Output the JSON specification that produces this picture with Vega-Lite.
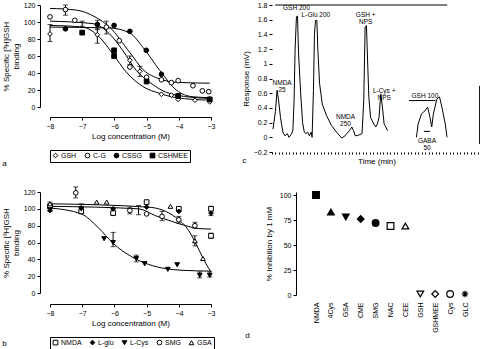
{
  "$schema": "https://vega.github.io/schema/vega-lite/v6.json",
  "padding": {"left": 2, "top": 1, "right": 0, "bottom": 0},
  "background": "white",
  "columns": 2,
  "spacing": {"row": 18, "column": 26},
  "resolve": {"scale": {"shape": "independent", "fill": "independent", "stroke": "independent", "x": "independent", "y": "independent"}},
  "config": {
    "font": "Liberation Sans",
    "view": {"stroke": null},
    "axis": {"labelFontSize": 7, "titleFontSize": 8, "titleFontWeight": "normal", "tickSize": 3, "grid": false, "domainColor": "black", "tickColor": "black", "labelColor": "black", "titleColor": "black", "labelPadding": 2, "titlePadding": 3, "labelOverlap": false, "labelFlush": false},
    "legend": {"labelFontSize": 7, "labelColor": "black", "orient": "bottom", "direction": "horizontal", "strokeColor": "black", "padding": 2, "symbolSize": 22, "symbolStrokeWidth": 1, "columnPadding": 6, "offset": 10, "labelOffset": 2},
    "title": {"fontSize": 8, "fontWeight": "normal", "color": "black"}
  },
  "concat": [
    {
      "width": 161, "height": 102,
      "title": {"text": "a", "orient": "bottom", "anchor": "start", "frame": "bounds", "offset": -3},
      "layer": [
        {
          "data": {"values": [
            {"curve": "C-G", "x": -8.0, "y": 116}, {"curve": "C-G", "x": -7.18, "y": 114}, {"curve": "C-G", "x": -6.6, "y": 106}, {"curve": "C-G", "x": -6.15, "y": 94}, {"curve": "C-G", "x": -5.52, "y": 64}, {"curve": "C-G", "x": -5.11, "y": 44}, {"curve": "C-G", "x": -4.59, "y": 33}, {"curve": "C-G", "x": -4.08, "y": 29}, {"curve": "C-G", "x": -3.04, "y": 28},
            {"curve": "CSSG", "x": -8.0, "y": 94}, {"curve": "CSSG", "x": -6.15, "y": 93}, {"curve": "CSSG", "x": -5.52, "y": 87}, {"curve": "CSSG", "x": -5.11, "y": 70}, {"curve": "CSSG", "x": -4.59, "y": 43}, {"curve": "CSSG", "x": -4.08, "y": 20}, {"curve": "CSSG", "x": -3.56, "y": 12}, {"curve": "CSSG", "x": -3.04, "y": 11},
            {"curve": "GSH", "x": -8.0, "y": 101}, {"curve": "GSH", "x": -6.66, "y": 98}, {"curve": "GSH", "x": -6.15, "y": 86}, {"curve": "GSH", "x": -5.73, "y": 66}, {"curve": "GSH", "x": -5.32, "y": 43}, {"curve": "GSH", "x": -4.9, "y": 29}, {"curve": "GSH", "x": -4.49, "y": 19}, {"curve": "GSH", "x": -4.08, "y": 14}, {"curve": "GSH", "x": -3.04, "y": 10},
            {"curve": "CSHMEE", "x": -8.0, "y": 96}, {"curve": "CSHMEE", "x": -6.98, "y": 94}, {"curve": "CSHMEE", "x": -6.46, "y": 82}, {"curve": "CSHMEE", "x": -6.04, "y": 62}, {"curve": "CSHMEE", "x": -5.63, "y": 41}, {"curve": "CSHMEE", "x": -5.11, "y": 24}, {"curve": "CSHMEE", "x": -4.59, "y": 16}, {"curve": "CSHMEE", "x": -4.08, "y": 11}, {"curve": "CSHMEE", "x": -3.04, "y": 8}
          ]},
          "mark": {"type": "line", "interpolate": "monotone", "color": "black", "strokeWidth": 1},
          "encoding": {
            "x": {"field": "x", "type": "quantitative", "scale": {"domain": [-8, -3], "nice": false, "zero": false}, "axis": {"title": "Log concentration (M)", "values": [-8, -7, -6, -5, -4, -3], "offset": 10, "labelOverlap": false}},
            "y": {"field": "y", "type": "quantitative", "scale": {"domain": [0, 120], "nice": false}, "axis": {"title": ["% Specific [³H]GSH", "binding"], "values": [0, 20, 40, 60, 80, 100, 120], "offset": 10, "labelOverlap": false}},
            "detail": {"field": "curve"}
          }
        },
        {
          "data": {"values": [
            {"x": -8.0, "lo": 77, "hi": 97}, {"x": -7.52, "lo": 108, "hi": 120}, {"x": -7.0, "lo": 95, "hi": 101}, {"x": -6.53, "lo": 91, "hi": 102}, {"x": -6.53, "lo": 75, "hi": 92}, {"x": -6.25, "lo": 86, "hi": 101}, {"x": -5.52, "lo": 50, "hi": 60}, {"x": -5.21, "lo": 36, "hi": 48}
          ]},
          "mark": {"type": "errorbar", "ticks": true, "color": "black"},
          "encoding": {
            "x": {"field": "x", "type": "quantitative", "axis": {"title": "Log concentration (M)", "values": [-8, -7, -6, -5, -4, -3], "offset": 10, "labelOverlap": false}},
            "y": {"field": "lo", "type": "quantitative", "axis": {"title": ["% Specific [³H]GSH", "binding"], "values": [0, 20, 40, 60, 80, 100, 120], "offset": 10, "labelOverlap": false}},
            "y2": {"field": "hi"}
          }
        },
        {
          "data": {"values": [
            {"c": "GSH", "x": -8.0, "y": 86}, {"c": "GSH", "x": -6.53, "y": 85}, {"c": "GSH", "x": -5.52, "y": 55}, {"c": "GSH", "x": -5.21, "y": 42}, {"c": "GSH", "x": -4.54, "y": 15}, {"c": "GSH", "x": -4.23, "y": 14}, {"c": "GSH", "x": -4.02, "y": 9}, {"c": "GSH", "x": -3.5, "y": 8}, {"c": "GSH", "x": -3.04, "y": 6},
            {"c": "C-G", "x": -8.0, "y": 106}, {"c": "C-G", "x": -7.52, "y": 114.6}, {"c": "C-G", "x": -7.23, "y": 102}, {"c": "C-G", "x": -6.25, "y": 94}, {"c": "C-G", "x": -5.85, "y": 78}, {"c": "C-G", "x": -5.52, "y": 47}, {"c": "C-G", "x": -5.0, "y": 35}, {"c": "C-G", "x": -4.54, "y": 32}, {"c": "C-G", "x": -4.23, "y": 28.7}, {"c": "C-G", "x": -4.02, "y": 31}, {"c": "C-G", "x": -3.56, "y": 25}, {"c": "C-G", "x": -3.27, "y": 19}, {"c": "C-G", "x": -3.07, "y": 18},
            {"c": "CSSG", "x": -7.52, "y": 92}, {"c": "CSSG", "x": -6.53, "y": 97}, {"c": "CSSG", "x": -6.01, "y": 96}, {"c": "CSSG", "x": -5.52, "y": 89}, {"c": "CSSG", "x": -5.01, "y": 66.7}, {"c": "CSSG", "x": -4.54, "y": 38.5}, {"c": "CSSG", "x": -4.02, "y": 13}, {"c": "CSSG", "x": -3.04, "y": 9},
            {"c": "CSHMEE", "x": -7.0, "y": 87.5}, {"c": "CSHMEE", "x": -6.01, "y": 66.7}, {"c": "CSHMEE", "x": -6.01, "y": 60}, {"c": "CSHMEE", "x": -5.0, "y": 30}, {"c": "CSHMEE", "x": -4.02, "y": 13}, {"c": "CSHMEE", "x": -3.04, "y": 9}
          ]},
          "mark": {"type": "point", "filled": false, "strokeWidth": 1, "size": 22, "opacity": 1},
          "encoding": {
            "x": {"field": "x", "type": "quantitative", "axis": {"title": "Log concentration (M)", "values": [-8, -7, -6, -5, -4, -3], "offset": 10, "labelOverlap": false}},
            "y": {"field": "y", "type": "quantitative", "axis": {"title": ["% Specific [³H]GSH", "binding"], "values": [0, 20, 40, 60, 80, 100, 120], "offset": 10, "labelOverlap": false}},
            "shape": {"field": "c", "type": "nominal", "scale": {"domain": ["GSH", "C-G", "CSSG", "CSHMEE"], "range": ["diamond", "circle", "circle", "square"]}, "legend": {"title": null}},
            "fill": {"field": "c", "type": "nominal", "scale": {"domain": ["GSH", "C-G", "CSSG", "CSHMEE"], "range": ["white", "white", "black", "black"]}, "legend": {"title": null}},
            "stroke": {"field": "c", "type": "nominal", "scale": {"domain": ["GSH", "C-G", "CSSG", "CSHMEE"], "range": ["black", "black", "black", "black"]}, "legend": {"title": null}}
          }
        }
      ]
    },
    {
      "width": 209, "height": 147,
      "title": {"text": "c", "orient": "bottom", "anchor": "start", "frame": "bounds", "offset": -9},
      "layer": [
        {
          "data": {"values": [
            {"s": 1, "t": 0.29, "v": 0.11}, {"s": 1, "t": 0.98, "v": 0.35}, {"s": 1, "t": 1.46, "v": 0.64}, {"s": 1, "t": 1.9, "v": 0.5}, {"s": 1, "t": 2.44, "v": 0.27}, {"s": 1, "t": 3.12, "v": 0.07}, {"s": 1, "t": 3.71, "v": 0.02}, {"s": 1, "t": 4.39, "v": 0.05}, {"s": 1, "t": 4.88, "v": 0.0}, {"s": 1, "t": 5.66, "v": 0.05}, {"s": 1, "t": 6.0, "v": 0.1}, {"s": 1, "t": 6.34, "v": 0.5}, {"s": 1, "t": 6.63, "v": 1.2}, {"s": 1, "t": 7.02, "v": 1.64}, {"s": 1, "t": 7.32, "v": 1.65}, {"s": 1, "t": 7.61, "v": 1.16}, {"s": 1, "t": 8.0, "v": 0.8}, {"s": 1, "t": 8.29, "v": 0.55}, {"s": 1, "t": 8.78, "v": 0.2}, {"s": 1, "t": 9.27, "v": 0.07}, {"s": 1, "t": 9.75, "v": 0.05}, {"s": 1, "t": 10.24, "v": 0.07}, {"s": 1, "t": 10.73, "v": 0.02}, {"s": 1, "t": 11.22, "v": 0.07}, {"s": 1, "t": 11.51, "v": 0.0}, {"s": 1, "t": 11.9, "v": 0.64}, {"s": 1, "t": 12.19, "v": 1.4}, {"s": 1, "t": 12.49, "v": 1.59}, {"s": 1, "t": 12.88, "v": 1.59}, {"s": 1, "t": 13.17, "v": 1.18}, {"s": 1, "t": 13.66, "v": 0.73}, {"s": 1, "t": 14.44, "v": 0.45}, {"s": 1, "t": 15.61, "v": 0.3}, {"s": 1, "t": 17.07, "v": 0.16}, {"s": 1, "t": 18.53, "v": 0.07}, {"s": 1, "t": 20.0, "v": -0.01}, {"s": 1, "t": 20.97, "v": 0.02}, {"s": 1, "t": 21.46, "v": 0.05}, {"s": 1, "t": 22.24, "v": 0.09}, {"s": 1, "t": 22.92, "v": 0.14}, {"s": 1, "t": 23.41, "v": 0.09}, {"s": 1, "t": 23.9, "v": 0.02}, {"s": 1, "t": 24.88, "v": 0.03}, {"s": 1, "t": 25.85, "v": 0.05}, {"s": 1, "t": 26.34, "v": 0.5}, {"s": 1, "t": 26.73, "v": 1.5}, {"s": 1, "t": 27.12, "v": 1.52}, {"s": 1, "t": 27.51, "v": 0.95}, {"s": 1, "t": 27.8, "v": 0.55}, {"s": 1, "t": 28.29, "v": 0.27}, {"s": 1, "t": 29.26, "v": 0.18}, {"s": 1, "t": 29.75, "v": 0.14}, {"s": 1, "t": 30.24, "v": 0.18}, {"s": 1, "t": 30.73, "v": 0.27}, {"s": 1, "t": 31.22, "v": 0.59}, {"s": 1, "t": 31.7, "v": 0.41}, {"s": 1, "t": 32.19, "v": 0.18}, {"s": 1, "t": 32.68, "v": 0.14}, {"s": 1, "t": 33.17, "v": 0.09},
            {"s": 2, "t": 41.46, "v": 0.0}, {"s": 2, "t": 41.95, "v": 0.18}, {"s": 2, "t": 42.92, "v": 0.32}, {"s": 2, "t": 43.9, "v": 0.36}, {"s": 2, "t": 44.68, "v": 0.41}, {"s": 2, "t": 45.36, "v": 0.27}, {"s": 2, "t": 45.85, "v": 0.14}, {"s": 2, "t": 46.34, "v": 0.32}, {"s": 2, "t": 47.31, "v": 0.52}, {"s": 2, "t": 48.09, "v": 0.55}, {"s": 2, "t": 48.78, "v": 0.41}, {"s": 2, "t": 49.75, "v": 0.18}, {"s": 2, "t": 50.24, "v": 0.0}
          ]},
          "mark": {"type": "line", "color": "black", "strokeWidth": 1},
          "encoding": {
            "x": {"field": "t", "type": "quantitative", "scale": {"domain": [0, 60], "nice": false, "zero": false}, "axis": {"title": "Time (min)", "labels": false, "domain": false, "tickCount": 60, "tickSize": 2}},
            "y": {"field": "v", "type": "quantitative", "scale": {"domain": [-0.2, 1.8], "nice": false, "zero": false}, "axis": {"title": "Response (mV)", "values": [-0.2, 0, 0.2, 0.4, 0.6, 0.8, 1, 1.2, 1.4, 1.6, 1.8], "format": ".1~f", "domain": false, "labelOverlap": false}},
            "detail": {"field": "s"}
          }
        },
        {
          "data": {"values": [
            {"t1": 0.9, "t2": 50.3, "v": 1.8}, {"t1": 39.3, "t2": 46.9, "v": 0.5}, {"t1": 43.6, "t2": 45.4, "v": 0.08}
          ]},
          "mark": {"type": "rule", "color": "black", "strokeWidth": 1},
          "encoding": {
            "x": {"field": "t1", "type": "quantitative", "axis": {"title": "Time (min)", "labels": false, "domain": false, "tickCount": 60, "tickSize": 2}},
            "x2": {"field": "t2"},
            "y": {"field": "v", "type": "quantitative", "axis": {"title": "Response (mV)", "values": [-0.2, 0, 0.2, 0.4, 0.6, 0.8, 1, 1.2, 1.4, 1.6, 1.8], "format": ".1~f", "domain": false, "labelOverlap": false}}
          }
        },
        {
          "data": {"values": [{"t": 59.6, "v1": -0.09, "v2": 0.7}]},
          "mark": {"type": "rule", "color": "black", "strokeWidth": 1},
          "encoding": {
            "x": {"field": "t", "type": "quantitative", "axis": {"title": "Time (min)", "labels": false, "domain": false, "tickCount": 60, "tickSize": 2}},
            "y": {"field": "v1", "type": "quantitative", "axis": {"title": "Response (mV)", "values": [-0.2, 0, 0.2, 0.4, 0.6, 0.8, 1, 1.2, 1.4, 1.6, 1.8], "format": ".1~f", "domain": false, "labelOverlap": false}},
            "y2": {"field": "v2"}
          }
        },
        {
          "data": {"values": [
            {"t": 2.9, "v": 0.735, "label": "NMDA\n25"},
            {"t": 7.0, "v": 1.76, "label": "GSH 200"},
            {"t": 12.6, "v": 1.66, "label": "L-Glu 200"},
            {"t": 26.9, "v": 1.66, "label": "GSH +\nNPS"},
            {"t": 21.1, "v": 0.28, "label": "NMDA\n250"},
            {"t": 32.2, "v": 0.63, "label": "L-Cys +\nNPS"},
            {"t": 43.9, "v": 0.56, "label": "GSH 100"},
            {"t": 44.5, "v": -0.05, "label": "GABA\n50"}
          ]},
          "mark": {"type": "text", "fontSize": 6.5, "lineBreak": "\n", "color": "black", "baseline": "middle", "lineHeight": 7},
          "encoding": {
            "x": {"field": "t", "type": "quantitative", "axis": {"title": "Time (min)", "labels": false, "domain": false, "tickCount": 60, "tickSize": 2}},
            "y": {"field": "v", "type": "quantitative", "axis": {"title": "Response (mV)", "values": [-0.2, 0, 0.2, 0.4, 0.6, 0.8, 1, 1.2, 1.4, 1.6, 1.8], "format": ".1~f", "domain": false, "labelOverlap": false}},
            "text": {"field": "label"}
          }
        }
      ]
    },
    {
      "width": 161, "height": 101,
      "title": {"text": "b", "orient": "bottom", "anchor": "start", "frame": "bounds", "offset": -10},
      "layer": [
        {
          "data": {"values": [
            {"curve": "L-Cys", "x": -8.0, "y": 101}, {"curve": "L-Cys", "x": -7.03, "y": 94}, {"curve": "L-Cys", "x": -6.51, "y": 78}, {"curve": "L-Cys", "x": -6.04, "y": 59}, {"curve": "L-Cys", "x": -5.46, "y": 43}, {"curve": "L-Cys", "x": -4.94, "y": 34}, {"curve": "L-Cys", "x": -4.42, "y": 29}, {"curve": "L-Cys", "x": -3.9, "y": 27}, {"curve": "L-Cys", "x": -3.0, "y": 26},
            {"curve": "SMG", "x": -8.0, "y": 103}, {"curve": "SMG", "x": -5.25, "y": 100}, {"curve": "SMG", "x": -4.73, "y": 92}, {"curve": "SMG", "x": -4.21, "y": 85}, {"curve": "SMG", "x": -3.79, "y": 80}, {"curve": "SMG", "x": -3.37, "y": 76.5}, {"curve": "SMG", "x": -3.0, "y": 76},
            {"curve": "GSA", "x": -8.0, "y": 106}, {"curve": "GSA", "x": -4.94, "y": 102}, {"curve": "GSA", "x": -4.1, "y": 90}, {"curve": "GSA", "x": -3.69, "y": 74}, {"curve": "GSA", "x": -3.37, "y": 51}, {"curve": "GSA", "x": -3.16, "y": 35}, {"curve": "GSA", "x": -3.0, "y": 25}
          ]},
          "mark": {"type": "line", "interpolate": "monotone", "color": "black", "strokeWidth": 1},
          "encoding": {
            "x": {"field": "x", "type": "quantitative", "scale": {"domain": [-8, -3], "nice": false, "zero": false}, "axis": {"title": "Log concentration (M)", "values": [-8, -7, -6, -5, -4, -3], "offset": 11, "labelOverlap": false}},
            "y": {"field": "y", "type": "quantitative", "scale": {"domain": [0, 120], "nice": false}, "axis": {"title": ["% Specific [³H]GSH", "binding"], "values": [0, 20, 40, 60, 80, 100, 120], "offset": 10, "labelOverlap": false}},
            "detail": {"field": "curve"}
          }
        },
        {
          "data": {"values": [
            {"x": -8.0, "lo": 97, "hi": 108}, {"x": -7.2, "lo": 113, "hi": 126}, {"x": -7.03, "lo": 95, "hi": 106}, {"x": -6.04, "lo": 92, "hi": 101}, {"x": -5.52, "lo": 94, "hi": 102}, {"x": -5.25, "lo": 93, "hi": 104}, {"x": -4.52, "lo": 86, "hi": 97}, {"x": -4.0, "lo": 83, "hi": 91}, {"x": -3.5, "lo": 77, "hi": 84}, {"x": -3.5, "lo": 56, "hi": 68}, {"x": -6.04, "lo": 55, "hi": 72}, {"x": -5.32, "lo": 37, "hi": 45}, {"x": -3.35, "lo": 18, "hi": 25}, {"x": -3.04, "lo": 19, "hi": 25}, {"x": -3.0, "lo": 65, "hi": 71}, {"x": -3.0, "lo": 92, "hi": 103}
          ]},
          "mark": {"type": "errorbar", "ticks": true, "color": "black"},
          "encoding": {
            "x": {"field": "x", "type": "quantitative", "axis": {"title": "Log concentration (M)", "values": [-8, -7, -6, -5, -4, -3], "offset": 11, "labelOverlap": false}},
            "y": {"field": "lo", "type": "quantitative", "axis": {"title": ["% Specific [³H]GSH", "binding"], "values": [0, 20, 40, 60, 80, 100, 120], "offset": 10, "labelOverlap": false}},
            "y2": {"field": "hi"}
          }
        },
        {
          "data": {"values": [
            {"c": "NMDA", "x": -8.0, "y": 103}, {"c": "NMDA", "x": -7.03, "y": 97}, {"c": "NMDA", "x": -6.04, "y": 95}, {"c": "NMDA", "x": -5.0, "y": 108}, {"c": "NMDA", "x": -4.0, "y": 100}, {"c": "NMDA", "x": -3.0, "y": 100}, {"c": "NMDA", "x": -3.0, "y": 68},
            {"c": "L-glu", "x": -8.0, "y": 98}, {"c": "L-glu", "x": -7.03, "y": 101}, {"c": "L-glu", "x": -6.04, "y": 100}, {"c": "L-glu", "x": -5.0, "y": 102}, {"c": "L-glu", "x": -4.0, "y": 97}, {"c": "L-glu", "x": -3.0, "y": 95},
            {"c": "L-Cys", "x": -8.0, "y": 99}, {"c": "L-Cys", "x": -7.03, "y": 100}, {"c": "L-Cys", "x": -6.32, "y": 64.5}, {"c": "L-Cys", "x": -6.04, "y": 60}, {"c": "L-Cys", "x": -5.32, "y": 40.8}, {"c": "L-Cys", "x": -5.06, "y": 34.8}, {"c": "L-Cys", "x": -4.34, "y": 28.1}, {"c": "L-Cys", "x": -4.05, "y": 33.6}, {"c": "L-Cys", "x": -3.35, "y": 21}, {"c": "L-Cys", "x": -3.04, "y": 21},
            {"c": "SMG", "x": -7.2, "y": 119}, {"c": "SMG", "x": -5.52, "y": 98}, {"c": "SMG", "x": -5.0, "y": 94}, {"c": "SMG", "x": -4.52, "y": 91}, {"c": "SMG", "x": -4.0, "y": 87}, {"c": "SMG", "x": -3.5, "y": 80},
            {"c": "GSA", "x": -8.0, "y": 106}, {"c": "GSA", "x": -6.55, "y": 108}, {"c": "GSA", "x": -6.24, "y": 108}, {"c": "GSA", "x": -4.26, "y": 103}, {"c": "GSA", "x": -3.5, "y": 62}, {"c": "GSA", "x": -3.25, "y": 41}
          ]},
          "mark": {"type": "point", "filled": false, "strokeWidth": 1, "size": 22, "opacity": 1},
          "encoding": {
            "x": {"field": "x", "type": "quantitative", "axis": {"title": "Log concentration (M)", "values": [-8, -7, -6, -5, -4, -3], "offset": 11, "labelOverlap": false}},
            "y": {"field": "y", "type": "quantitative", "axis": {"title": ["% Specific [³H]GSH", "binding"], "values": [0, 20, 40, 60, 80, 100, 120], "offset": 10, "labelOverlap": false}},
            "shape": {"field": "c", "type": "nominal", "scale": {"domain": ["NMDA", "L-glu", "L-Cys", "SMG", "GSA"], "range": ["square", "diamond", "triangle-down", "circle", "triangle-up"]}, "legend": {"title": null}},
            "fill": {"field": "c", "type": "nominal", "scale": {"domain": ["NMDA", "L-glu", "L-Cys", "SMG", "GSA"], "range": ["white", "black", "black", "white", "white"]}, "legend": {"title": null}},
            "stroke": {"field": "c", "type": "nominal", "scale": {"domain": ["NMDA", "L-glu", "L-Cys", "SMG", "GSA"], "range": ["black", "black", "black", "black", "black"]}, "legend": {"title": null}}
          }
        }
      ]
    },
    {
      "width": 209, "height": 103,
      "title": {"text": "d", "orient": "bottom", "anchor": "start", "frame": "bounds", "offset": 0, "dx": -20},
      "data": {"values": [
        {"agent": "NMDA", "inh": 100}, {"agent": "4Cys", "inh": 83}, {"agent": "GSA", "inh": 78}, {"agent": "CME", "inh": 76}, {"agent": "SMG", "inh": 72}, {"agent": "NAC", "inh": 69}, {"agent": "CEE", "inh": 69}, {"agent": "GSH", "inh": 1}, {"agent": "GSHMEE", "inh": 1}, {"agent": "Cys", "inh": 1}, {"agent": "GLC", "inh": 1}
      ]},
      "mark": {"type": "point", "filled": true, "stroke": "black", "strokeWidth": 1.2, "size": 45, "opacity": 1},
      "encoding": {
        "x": {"field": "agent", "type": "nominal", "sort": null, "scale": {"type": "point", "padding": 0, "range": [44, 193]}, "axis": {"title": null, "labelAngle": -90, "domain": false, "ticks": false, "labelPadding": 7}},
        "y": {"field": "inh", "type": "quantitative", "scale": {"domain": [0, 103], "nice": false}, "axis": {"title": "% Inhibition by 1 mM", "values": [0, 25, 50, 75, 100], "offset": -24, "titlePadding": 6, "labelOverlap": false}},
        "shape": {"field": "agent", "type": "nominal", "scale": {"domain": ["NMDA", "4Cys", "GSA", "CME", "SMG", "NAC", "CEE", "GSH", "GSHMEE", "Cys", "GLC"], "range": ["square", "triangle-up", "triangle-down", "diamond", "circle", "square", "triangle-up", "triangle-down", "diamond", "circle", "M-1,0L1,0M0,-1L0,1M-0.7,-0.7L0.7,0.7M-0.7,0.7L0.7,-0.7"]}, "legend": null},
        "fill": {"field": "agent", "type": "nominal", "scale": {"domain": ["NMDA", "4Cys", "GSA", "CME", "SMG", "NAC", "CEE", "GSH", "GSHMEE", "Cys", "GLC"], "range": ["black", "black", "black", "black", "black", "white", "white", "white", "white", "white", "black"]}, "legend": null}
      }
    }
  ]
}
